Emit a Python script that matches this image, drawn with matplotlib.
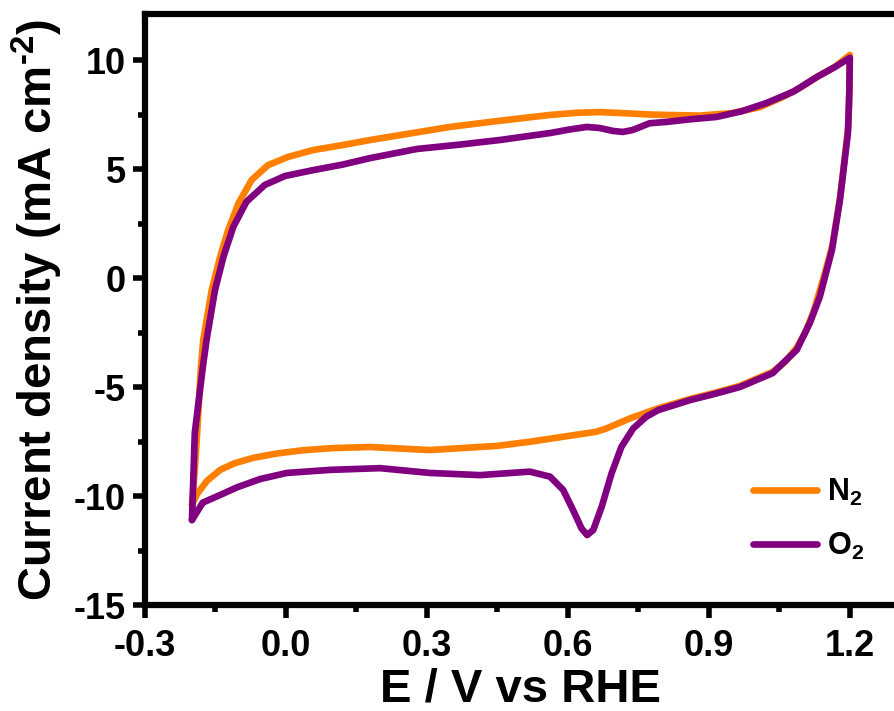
"""Cyclic voltammograms in N2- and O2-saturated electrolyte -> out.png"""
import matplotlib
matplotlib.use("Agg")
import matplotlib.pyplot as plt
from matplotlib.ticker import MultipleLocator, FormatStrFormatter

# N2-saturated CV: anodic sweep -0.2 -> 1.2 V, then cathodic back to -0.2 V
n2_E = [-0.200, -0.194, -0.189, -0.181, -0.176, -0.158, -0.140, -0.123, -0.101,
        -0.073, -0.038, 0.005, 0.058, 0.121, 0.179, 0.349, 0.450, 0.562, 0.620,
        0.668, 0.720, 0.774, 0.810, 0.881, 0.951, 1.009, 1.057, 1.094, 1.130,
        1.168, 1.200,
        1.199, 1.197, 1.180, 1.163, 1.144, 1.122, 1.105, 1.087, 1.062, 1.036,
        0.966, 0.915, 0.860, 0.792, 0.732, 0.682, 0.661, 0.519, 0.449, 0.306,
        0.179, 0.100, 0.036, -0.020, -0.070, -0.110, -0.140, -0.168, -0.189, -0.200]
n2_j = [-10.4, -8.8, -7.1, -4.1, -2.84, -0.55, 0.98, 2.20, 3.43,
        4.50, 5.18, 5.56, 5.87, 6.10, 6.33, 6.93, 7.20, 7.48, 7.58,
        7.61, 7.56, 7.50, 7.48, 7.45, 7.57, 7.84, 8.30, 8.72, 9.22,
        9.68, 10.23,
        8.6, 7.0, 3.8, 1.5, 0.0, -1.6, -2.5, -3.2, -3.85, -4.3,
        -4.95, -5.25, -5.55, -5.98, -6.44, -6.90, -7.05, -7.51, -7.70, -7.89,
        -7.75, -7.80, -7.90, -8.05, -8.25, -8.50, -8.80, -9.30, -9.90, -10.4]

# O2-saturated CV, same sweep order; ORR peak near 0.64 V
o2_E = [-0.200, -0.194, -0.177, -0.169, -0.151, -0.133, -0.112, -0.084, -0.045,
        -0.002, 0.058, 0.120, 0.179, 0.279, 0.370, 0.455, 0.562, 0.600, 0.640,
        0.668, 0.695, 0.717, 0.738, 0.774, 0.810, 0.860, 0.917, 0.970, 1.023,
        1.080, 1.130, 1.170, 1.200,
        1.199, 1.196, 1.179, 1.162, 1.136, 1.115, 1.087, 1.058, 1.036, 0.966,
        0.915, 0.860, 0.792, 0.767, 0.739, 0.714, 0.693, 0.672, 0.654, 0.641,
        0.629, 0.611, 0.590, 0.562, 0.519, 0.413, 0.306, 0.200, 0.094, 0.002,
        -0.055, -0.104, -0.140, -0.177, -0.200]
o2_j = [-11.1, -7.1, -4.1, -2.84, -0.55, 0.98, 2.35, 3.50, 4.27,
        4.68, 4.95, 5.20, 5.50, 5.92, 6.12, 6.33, 6.65, 6.80, 6.93,
        6.88, 6.75, 6.70, 6.79, 7.10, 7.16, 7.28, 7.39, 7.65, 8.03,
        8.55, 9.22, 9.70, 10.1,
        8.5, 6.65, 3.58, 1.28, -0.87, -2.06, -3.30, -3.90, -4.36, -5.0,
        -5.30, -5.60, -6.06, -6.36, -6.90, -7.74, -8.96, -10.49, -11.56, -11.79,
        -11.48, -10.64, -9.72, -9.11, -8.88, -9.04, -8.94, -8.72, -8.80, -8.94,
        -9.22, -9.60, -9.95, -10.3, -11.1]

plt.rcParams["font.family"] = ["Liberation Sans", "DejaVu Sans"]
plt.rcParams["font.weight"] = "bold"
plt.rcParams["axes.labelweight"] = "bold"
plt.rcParams["axes.unicode_minus"] = False
plt.rcParams["mathtext.fontset"] = "custom"
plt.rcParams["mathtext.rm"] = "Liberation Sans:bold"
plt.rcParams["mathtext.it"] = "Liberation Sans:bold"
plt.rcParams["mathtext.bf"] = "Liberation Sans:bold"

fig = plt.figure(figsize=(8.95, 7.11), dpi=100)
ax = fig.add_axes([0.162, 0.149, 0.840, 0.831])

ax.plot(n2_E, n2_j, color="#FF8000", lw=4.8, solid_joinstyle="round",
        solid_capstyle="round", label="N$_2$")
ax.plot(o2_E, o2_j, color="#800080", lw=4.8, solid_joinstyle="round",
        solid_capstyle="round", label="O$_2$")

ax.set_xlim(-0.3, 1.3)
ax.set_ylim(-15, 12.1)
ax.xaxis.set_major_locator(MultipleLocator(0.3))
ax.xaxis.set_minor_locator(MultipleLocator(0.15))
ax.yaxis.set_major_locator(MultipleLocator(5))
ax.yaxis.set_minor_locator(MultipleLocator(2.5))
ax.xaxis.set_major_formatter(FormatStrFormatter("%.1f"))

for s in ("left", "bottom", "top"):
    ax.spines[s].set_linewidth(4.5)
ax.spines["right"].set_visible(False)
ax.tick_params(which="major", direction="out", length=9, width=4, labelsize=26)
ax.tick_params(which="minor", direction="out", length=5, width=4)
ax.tick_params(axis="x", which="both", top=False, pad=8)
ax.tick_params(axis="y", which="both", right=False, pad=5)

ax.set_xlabel("E / V vs RHE", fontsize=34, labelpad=3)
ax.set_ylabel(r"Current density (mA cm$^{\text{-}2}$)", fontsize=34, labelpad=6)

ax.legend(loc="center left", bbox_to_anchor=(0.809, 0.145), frameon=False,
          fontsize=22, handlelength=2.1, handletextpad=0.3, labelspacing=0.75,
          borderpad=0, borderaxespad=0)

fig.savefig("out.png", dpi=100)
